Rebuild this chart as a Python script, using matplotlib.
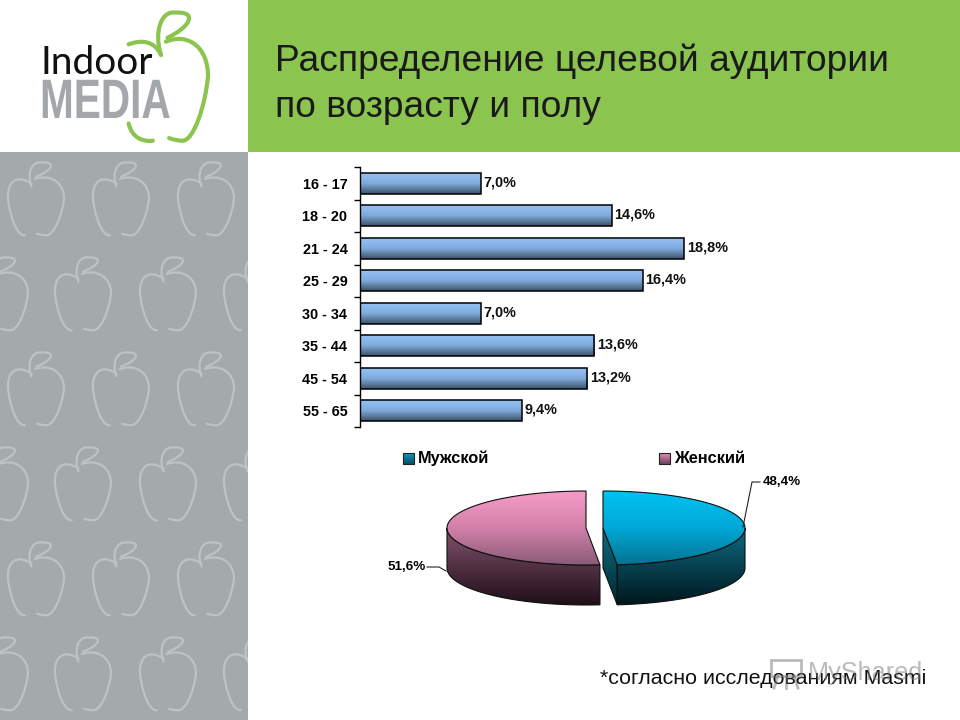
import numpy as np
import matplotlib
matplotlib.use("Agg")
import matplotlib.pyplot as plt
from matplotlib.colors import LinearSegmentedColormap
from matplotlib.patches import Polygon, PathPatch, Rectangle
from matplotlib.patheffects import AbstractPathEffect
from matplotlib.path import Path
from matplotlib.transforms import Affine2D

plt.rcParams['font.family'] = ['Liberation Sans', 'DejaVu Sans']

ages = ['16 - 17', '18 - 20', '21 - 24', '25 - 29', '30 - 34', '35 - 44', '45 - 54', '55 - 65']
age_values = [7.0, 14.6, 18.8, 16.4, 7.0, 13.6, 13.2, 9.4]
age_labels = ['7,0%', '14,6%', '18,8%', '16,4%', '7,0%', '13,6%', '13,2%', '9,4%']
genders = ['Мужской', 'Женский']
gender_values = [48.4, 51.6]
gender_labels = ['48,4%', '51,6%']

title = 'Распределение целевой аудитории\nпо возрасту и полу'
note = '*согласно исследованиям Masmi'

fig = plt.figure(figsize=(9.6, 7.2), dpi=100)
W, H = 960, 720

# whole slide in pixel coords
bg = fig.add_axes([0, 0, 1, 1])
bg.set_xlim(0, W)
bg.set_ylim(H, 0)
bg.axis('off')


class Squeeze(AbstractPathEffect):
    # narrows the glyphs, there is no condensed bold font here
    def __init__(self, x0, sx):
        super().__init__()
        self.x0, self.sx = x0, sx

    def draw_path(self, renderer, gc, tpath, affine, rgbFace=None):
        tr = affine + Affine2D().translate(-self.x0, 0).scale(self.sx, 1).translate(self.x0, 0)
        renderer.draw_path(gc, tpath, tr, rgbFace)


def grad(ax, patch, colors, box):
    cmap = LinearSegmentedColormap.from_list('g', colors)
    g = np.linspace(0, 1, 256).reshape(-1, 1)
    ax.add_patch(patch)
    im = ax.imshow(g, cmap=cmap, aspect='auto', extent=box, zorder=patch.get_zorder() - 0.1)
    im.set_clip_path(patch)


# apple drawn in a unit box, y down
leaf = [(0.42, 0.34), (0.33, 0.17), (0.42, 0.0), (0.6, 0.02), (0.88, 0.01), (0.78, 0.13), (0.5, 0.21)]
leaf_codes = [Path.MOVETO, Path.CURVE4, Path.CURVE4, Path.CURVE4, Path.CURVE4, Path.CURVE4, Path.CURVE4]
right = [(0.48, 0.24), (0.75, 0.17), (1.0, 0.28), (1.0, 0.5), (0.97, 0.72), (0.82, 1.0), (0.68, 0.99), (0.6, 0.99), (0.52, 0.97)]
right_codes = [Path.MOVETO] + [Path.CURVE4] * 6 + [Path.CURVE3, Path.CURVE3]
top_left = [(0.02, 0.26), (0.2, 0.22), (0.34, 0.24), (0.42, 0.34)]
top_left_codes = [Path.MOVETO, Path.CURVE4, Path.CURVE4, Path.CURVE4]
bottom_left = [(0.02, 0.86), (0.06, 0.97), (0.2, 1.0), (0.32, 0.99)]
bottom_left_codes = [Path.MOVETO, Path.CURVE4, Path.CURVE4, Path.CURVE4]
left = [(0.42, 0.3), (0.15, 0.17), (-0.02, 0.28), (0.0, 0.5), (0.03, 0.72), (0.15, 1.0), (0.3, 0.99)]
left_codes = [Path.MOVETO] + [Path.CURVE4] * 6


def apple(x, y, w, h, color, lw, parts, clip=None, zorder=2):
    for pts, codes in parts:
        p = np.array(pts) * [w, h] + [x, y]
        patch = PathPatch(Path(p, codes), fill=False, ec=color, lw=lw, capstyle='round', zorder=zorder)
        bg.add_patch(patch)
        if clip is not None:
            patch.set_clip_path(clip)


# background blocks
bg.add_patch(Rectangle((248, 0), 712, 152, fc='#8CC450', ec='none', zorder=1))
side = Rectangle((0, 152), 248, 568, fc='#A4A9AC', ec='none', zorder=1)
bg.add_patch(side)

parts_full = [(leaf, leaf_codes), (right, right_codes), (left, left_codes)]
for row in range(6):
    y = 161 + row * 95
    xs = [8, 93, 178] if row % 2 == 0 else [-28, 55, 140, 224]
    for x in xs:
        apple(x, y, 56, 75, '#BEC2C4', 1.6, parts_full, clip=side)

# logo
apple(127, 10, 81, 132, '#8CC450', 3.0, [(leaf, leaf_codes), (right, right_codes), (top_left, top_left_codes), (bottom_left, bottom_left_codes)])
bg.text(40, 74, 'Indoor', fontsize=28, family=['Lato', 'DejaVu Sans'], color='#111111', va='baseline', zorder=3)
media = bg.text(40, 118, 'MEDIA', fontsize=40, fontweight='bold', color='#A4A7AA', va='baseline', zorder=3)
media.set_path_effects([Squeeze(40, 0.73)])

# title and note
bg.text(275, 84, title, fontsize=26.7, color='#1a1a1a', va='center', linespacing=1.42, zorder=3)
bg.text(600, 678, note, fontsize=15.4, color='#111111', va='center', zorder=3)

# watermark
wm = '#777777'
bg.text(808, 673, 'MyShared', fontsize=18.2, color=wm, alpha=0.5, va='center', zorder=4)
bg.add_patch(Rectangle((771, 660), 30, 16, fc='none', ec=wm, alpha=0.5, lw=2, zorder=4))
for x0, x1 in [(778, 774), (786, 786), (794, 798)]:
    bg.plot([x0, x1], [676, 688], color=wm, alpha=0.5, lw=2, zorder=4)

# bars
ax = fig.add_axes([360 / W, 1 - 427 / H, 344.6 / W, 260 / H])
ax.patch.set_alpha(0)
ax.set_xlim(0, 20)
ax.set_ylim(len(ages), 0)
for s in ['top', 'right', 'bottom']:
    ax.spines[s].set_visible(False)
ax.spines['left'].set_linewidth(1)
ax.set_xticks([])
ax.set_yticks(np.arange(len(ages) + 1))
ax.set_yticklabels([])
ax.tick_params(axis='y', which='major', length=4, width=1)
ax.set_yticks(np.arange(len(ages)) + 0.5, labels=ages, minor=True)
ax.tick_params(axis='y', which='minor', length=0, pad=9, labelsize=10.4)
for t in ax.get_yticklabels(minor=True):
    t.set_fontweight('bold')

bars = ax.barh(np.arange(len(ages)) + 0.5, age_values, height=0.64, color='none', ec='black', lw=1.1, zorder=3)
bar_cmap = LinearSegmentedColormap.from_list('bar', ['#94C2F5', '#7FAADB', '#3D5269'])
for b, v, lab in zip(bars, age_values, age_labels):
    im = ax.imshow(np.linspace(0, 1, 64).reshape(-1, 1), cmap=bar_cmap, aspect='auto',
                   extent=(0, v, b.get_y() + b.get_height(), b.get_y()), zorder=2)
    ax.text(v + 0.17, b.get_y() + b.get_height() / 2 - 0.03, lab, fontsize=10.4, fontweight='bold', va='center', color='#111111')
ax.set_xlim(0, 20)
ax.set_ylim(len(ages), 0)

# 3d pie, angles clockwise from the top
rx_m, rx_f, ry, depth = 142, 139, 37, 40
cx_m, cx_f, cy = 603, 586, 528
end = gender_values[0] / sum(gender_values) * 2 * np.pi


def rim(cx, a, b):
    t = np.linspace(a, b, 80)
    rx = rx_m if cx == cx_m else rx_f
    return np.column_stack([cx + rx * np.sin(t), cy - ry * np.cos(t)])


# walls first
r = rim(cx_m, np.pi / 2, end)
wall_m = np.vstack([r, (r + [0, depth])[::-1]])
grad(bg, Polygon(wall_m, fc='none', ec='none', zorder=3), ['#0E6E86', '#00161C'], (450, 750, 606, 525))
cut = rim(cx_m, end, end)[0]
wall_cut = np.array([[cx_m, cy], cut, cut + [0, depth], [cx_m, cy + depth]])
grad(bg, Polygon(wall_cut, fc='none', ec='none', zorder=3), ['#0E6E86', '#00262E'], (590, 630, 606, 528))
r = rim(cx_f, end, 1.5 * np.pi)
wall_f = np.vstack([r, (r + [0, depth])[::-1]])
grad(bg, Polygon(wall_f, fc='none', ec='none', zorder=3), ['#83536E', '#1E0E16'], (440, 610, 606, 528))

for poly in [wall_m, wall_cut, wall_f]:
    bg.add_patch(Polygon(poly, fc='none', ec='#101010', lw=0.8, zorder=3.5))

# tops
top_m = np.vstack([[cx_m, cy], rim(cx_m, 0, end)])
grad(bg, Polygon(top_m, fc='none', ec='none', zorder=4), ['#00C2F2', '#00A8D6', '#06708F'], (590, 750, 566, 491))
top_f = np.vstack([[cx_f, cy], rim(cx_f, end, 2 * np.pi)])
grad(bg, Polygon(top_f, fc='none', ec='none', zorder=4), ['#F79CC8', '#D080A8', '#875A75'], (440, 610, 566, 491))
bg.add_patch(Polygon(top_m, fc='none', ec='#101010', lw=0.8, zorder=4.5))
bg.add_patch(Polygon(top_f, fc='none', ec='#101010', lw=0.8, zorder=4.5))

# pie labels
bg.plot([743, 752, 760], [527, 482, 482], color='#222222', lw=0.8, zorder=5)
bg.text(763, 482, gender_labels[0], fontsize=9.6, fontweight='bold', va='center', zorder=5)
bg.plot([427, 439, 446], [567, 567, 571], color='#222222', lw=0.8, zorder=5)
bg.text(388, 567, gender_labels[1], fontsize=9.6, fontweight='bold', va='center', zorder=5)

# legend
for x, name, cols in [(403, genders[0], ['#0C9CC4', '#064E62']), (659, genders[1], ['#E88FBB', '#6A4258'])]:
    grad(bg, Rectangle((x, 453), 11, 11, fc='none', ec='none', zorder=4), cols, (x, x + 11, 464, 453))
    bg.add_patch(Rectangle((x, 453), 11, 11, fc='none', ec='#222222', lw=0.8, zorder=4.5))
    bg.text(x + 15, 463, name, fontsize=11.8, fontweight='bold', va='baseline', zorder=5)

bg.set_xlim(0, W)
bg.set_ylim(H, 0)

fig.savefig('out.png', dpi=100)
